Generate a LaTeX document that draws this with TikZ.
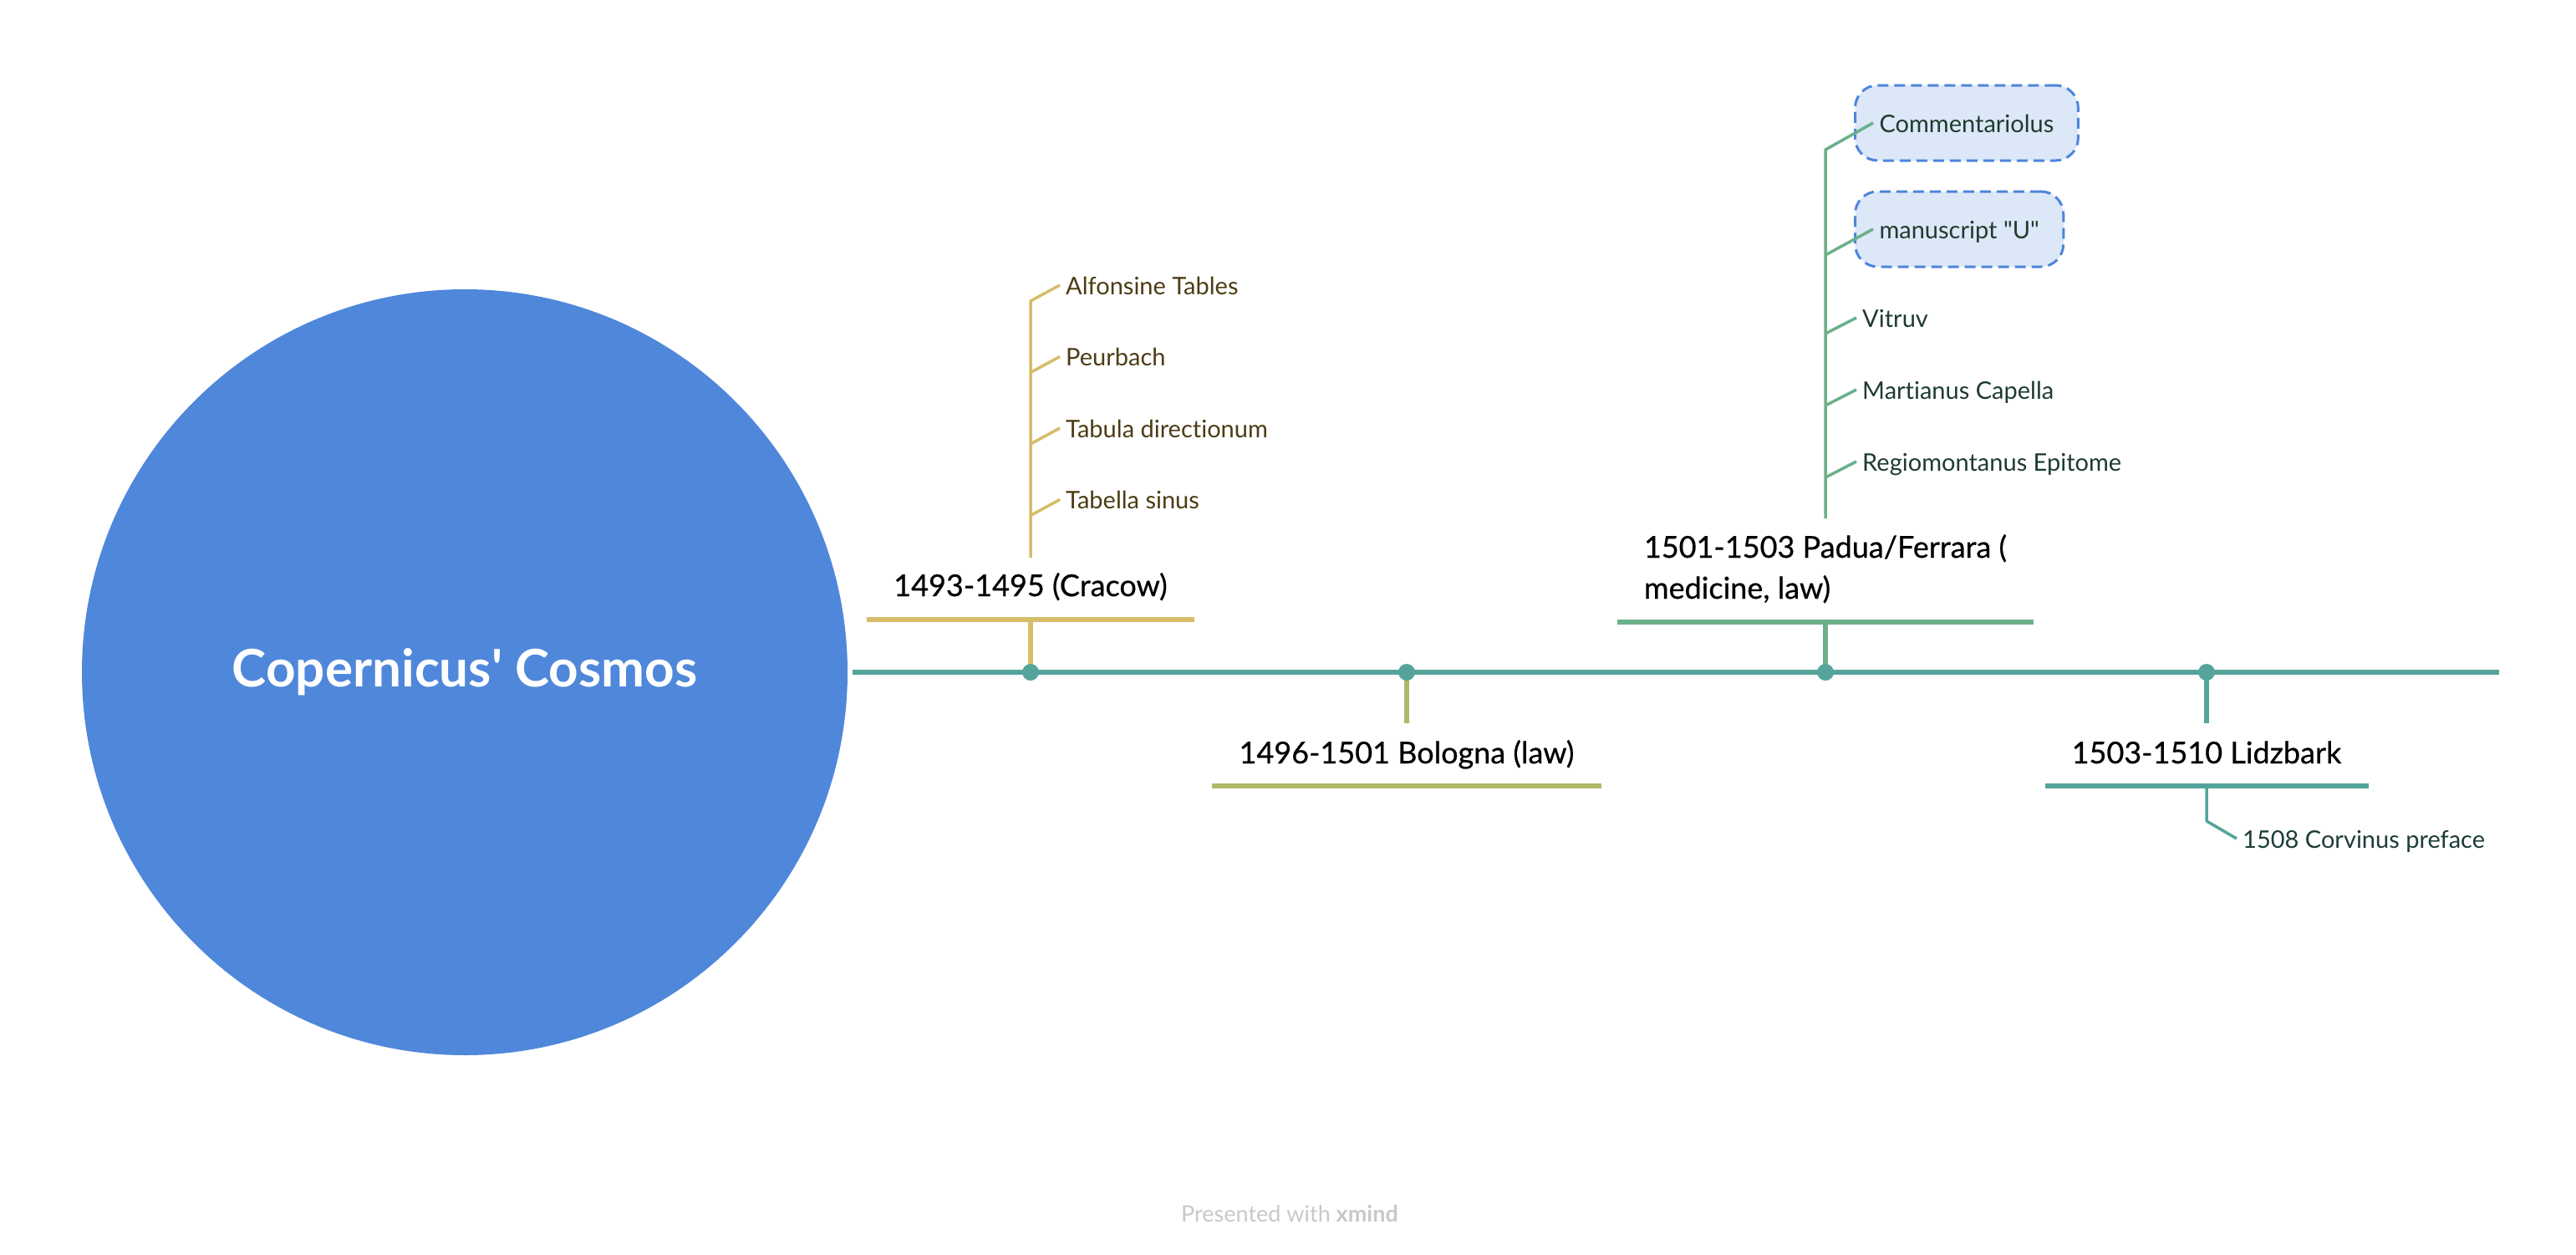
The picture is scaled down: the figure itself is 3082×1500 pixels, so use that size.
\documentclass[tikz,border=0pt]{standalone}
\usepackage{fontspec}
\setmainfont{Lato}[Ligatures={TeX,NoCommon}]
\newfontfamily\periodfont{Lato}[Ligatures={TeX,NoCommon},FakeBold=0.6]
\definecolor{topicblue}{RGB}{79,135,219}
\definecolor{tlteal}{RGB}{84,164,155}
\definecolor{cracgold}{RGB}{213,189,106}
\definecolor{bolive}{RGB}{176,184,106}
\definecolor{padgreen}{RGB}{108,176,138}
\definecolor{cracink}{RGB}{76,60,20}
\definecolor{padink}{RGB}{30,60,45}
\definecolor{lidink}{RGB}{28,60,56}
\definecolor{boxfill}{RGB}{220,231,248}
\definecolor{boxblue}{RGB}{77,134,219}
\definecolor{footgray}{RGB}{200,200,200}
\begin{document}
\begin{tikzpicture}[x=1pt,y=-1pt,
    sub/.style={anchor=west,inner xsep=7pt,inner ysep=0pt,font=\fontsize{29}{34}\selectfont,text height=22pt,text depth=0pt},
    boxsub/.style={sub,draw=boxblue,fill=boxfill,line width=3pt,dash pattern=on 13pt off 7pt,rounded corners=27pt,inner xsep=29pt,inner ysep=34pt},
    period/.style={anchor=base,inner xsep=32pt,inner ysep=0pt,font=\periodfont\fontsize{36}{49}\selectfont},
    bar/.style={line width=6pt},
    twig/.style={line width=3.5pt,line join=round},
    dot/.style={circle,fill=tlteal,inner sep=0pt,minimum size=20pt}]
\useasboundingbox (0,0) rectangle (3082,1500);

% central topic
\node[circle,fill=topicblue,minimum size=916pt,inner sep=0pt,text=white,font=\bfseries\fontsize{62}{74}\selectfont] (root) at (556,804) {Copernicus\textquotesingle\ Cosmos};

% time line
\coordinate (tlend) at (2990,804);
\draw[bar,tlteal] ([xshift=6pt]root.east) -- (tlend);
\foreach \n/\x in {crac/1233,bol/1683,pad/2184,lid/2640}
    \coordinate (c\n) at (\x,804);

% periods
\node[period] (cracow) at (1233,713) {1493-1495 (Cracow)};
\node[period] (bologna) at (1683,913) {1496-1501 Bologna (law)};
\node[period,align=left] (padua) at (2184,716) {1501-1503 Padua/Ferrara (\\medicine, law)};
\node[period] (lidz) at (2640,913) {1503-1510 Lidzbark};

\coordinate (cracbar) at ([yshift=-28pt]cracow.base);
\draw[bar,cracgold] (cracbar -| cracow.west) -- (cracbar -| cracow.east);
\draw[bar,cracgold] (cracbar) -- (ccrac);

\coordinate (boltop) at ([yshift=48pt]bologna.base);
\coordinate (bolbar) at ([yshift=-27pt]bologna.base);
\draw[bar,bolive] (bolbar -| bologna.west) -- (bolbar -| bologna.east);
\draw[bar,bolive] (cbol) -- (boltop);

\coordinate (padbar) at ([yshift=-28pt]padua.base);
\draw[bar,padgreen] (padbar -| padua.west) -- (padbar -| padua.east);
\draw[bar,padgreen] (padbar) -- (cpad);

\coordinate (lidtop) at ([yshift=48pt]lidz.base);
\coordinate (lidbar) at ([yshift=-27pt]lidz.base);
\draw[bar,tlteal] (lidbar -| lidz.west) -- (lidbar -| lidz.east);
\draw[bar,tlteal] (clid) -- (lidtop);

\foreach \n in {crac,bol,pad,lid}
    \node[dot] (d\n) at (c\n) {};

% Cracow subtopics
\coordinate (cracroot) at ([yshift=46pt]cracow.base);
\foreach \t [count=\i] in {Alfonsine Tables,Peurbach,Tabula directionum,Tabella sinus}
    \node[sub,text=cracink] (crsub\i) at (1268,{341+85.5*(\i-1)}) {\t};
\draw[twig,cracgold] (cracroot) -- ([yshift=-19pt]cracroot |- crsub1.west) -- (crsub1.west);
\foreach \i in {2,3,4}
    \draw[twig,cracgold] ([yshift=-19pt]cracroot |- crsub\i.west) -- (crsub\i.west);

% Padua subtopics
\coordinate (padroot) at ([yshift=96pt]padua.base);
\node[boxsub,text=padink] (pdsub1) at (2218,147) {Commentariolus};
\node[boxsub,text=padink] (pdsub2) at (2218,274) {manuscript \textquotedbl U\textquotedbl};
\foreach \t [count=\i from 3] in {Vitruv,Martianus Capella,Regiomontanus Epitome}
    \node[sub,text=padink] (pdsub\i) at (2221,{380+86*(\i-3)}) {\t};
\draw[twig,padgreen] (padroot) -- ([yshift=-32pt]padroot |- pdsub1.west) -- ([xshift=23pt]pdsub1.west);
\draw[twig,padgreen] ([yshift=-31pt]padroot |- pdsub2.west) -- ([xshift=23pt]pdsub2.west);
\foreach \i in {3,4,5}
    \draw[twig,padgreen] ([yshift=-19pt]padroot |- pdsub\i.west) -- (pdsub\i.west);

% Lidzbark subtopic
\node[sub,text=lidink] (ldsub1) at (2676,1003) {1508 Corvinus preface};
\draw[twig,tlteal] (lidbar) -- ([yshift=21pt]lidbar |- ldsub1.west) -- (ldsub1.west);

% footer
\node[font=\fontsize{27}{31}\selectfont,text=footgray] (credit) at (1543,1452) {Presented with \textbf{xmind}};
\end{tikzpicture}
\end{document}
